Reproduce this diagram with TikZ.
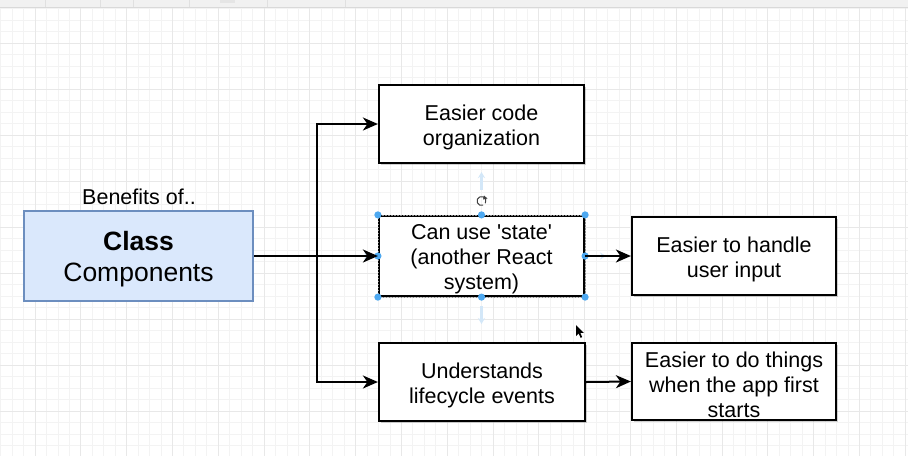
\documentclass[tikz,border=0pt]{standalone}
\usepackage{fontspec}
\setmainfont{Liberation Sans}[Ligatures=TeXOff]
\usetikzlibrary{arrows.meta,shadows}
\definecolor{clsfill}{HTML}{DAE8FC}
\definecolor{clsdraw}{HTML}{6C8EBF}
\definecolor{gridminor}{HTML}{F3F3F3}
\definecolor{gridmajor}{HTML}{E8E8E8}
\definecolor{handle}{HTML}{4DA8F0}
\definecolor{hint}{HTML}{D3E7F8}
\definecolor{toolbar}{HTML}{F1F1F1}
\tikzset{
  box/.style={draw=black, line width=2.2pt, fill=white, inner sep=0pt,
    drop shadow={shadow xshift=2pt, shadow yshift=-2pt, fill=black, opacity=0.18}},
  boxtext/.style={inner sep=0pt, align=center, yshift=-3pt, font=\fontsize{21.5}{25}\selectfont},
  clsbox/.style={draw=clsdraw, fill=clsfill, line width=1.6pt, inner sep=0pt,
    minimum width=229.5pt, minimum height=90.5pt},
  clstext/.style={inner sep=0pt, align=center, yshift=-3.5pt, font=\fontsize{26.5}{31}\selectfont},
  lbl/.style={inner sep=0pt, font=\fontsize{21.5}{25}\selectfont},
  conn/.style={line width=2pt, -{Stealth[length=15pt,width=13pt,inset=4.5pt]}},
  hintarrow/.style={hint, line width=2.2pt, -{Stealth[length=6pt,width=7pt]}},
}
\begin{document}
\begin{tikzpicture}[x=1pt,y=-1pt]
\useasboundingbox (0,0) rectangle (908,456);
\fill[white] (0,0) rectangle (908,456);
% grid
\foreach \i in {-3,...,76} {
  \draw[gridminor, line width=0.8pt] ({35+11.45*\i},7) -- ({35+11.45*\i},456);
}
\foreach \i in {-3,...,40} {
  \draw[gridminor, line width=0.8pt] (0,{43+11.5*\i}) -- (908,{43+11.5*\i});
}
\foreach \i in {-1,...,19} {
  \draw[gridmajor, line width=0.9pt] ({35+45.8*\i},7) -- ({35+45.8*\i},456);
}
\foreach \i in {-1,...,10} {
  \draw[gridmajor, line width=0.9pt] (0,{43+46*\i}) -- (908,{43+46*\i});
}
% toolbar strip
\fill[toolbar] (0,0) rectangle (908,7);
\draw[black!15, line width=0.8pt] (0,7) -- (908,7);
\foreach \x in {45,100,133,189,267,345} {
  \draw[black!12, line width=0.6pt] (\x,0) -- (\x,7);
}
\fill[black!10] (220,0) rectangle (235,2.5);

% nodes
\node[lbl] (ben) at (139,197) {Benefits of..};
\node[clsbox, label={[clstext]center:{\textbf{Class}\\Components}}] (cls) at (138.5,256) {};
\node[box, minimum width=205pt, minimum height=78pt,
  label={[boxtext]center:{Easier code\\organization}}] (b1) at (481.5,124) {};
\node[box, minimum width=205pt, minimum height=80pt,
  label={[boxtext]center:{Can use 'state'\\(another React\\system)}}] (b2) at (481.5,256) {};
\node[box, minimum width=206pt, minimum height=78pt,
  label={[boxtext]center:{Understands\\lifecycle events}}] (b3) at (482,382) {};
\node[box, minimum width=204pt, minimum height=78pt,
  label={[boxtext]center:{Easier to handle\\user input}}] (b4) at (734,256) {};
\node[box, minimum width=204pt, minimum height=77pt,
  label={[boxtext]center:{Easier to do things\\when the app first\\starts}}] (b5) at (734,381.5) {};

% selection decorations on b2
\draw[white!55!black, line width=0.7pt, dash pattern=on 1.5pt off 1.5pt] (b2.north west) rectangle (b2.south east);
\draw[hintarrow] (481.5,190) -- (481.5,172);
\draw[hintarrow] (481.5,306) -- (481.5,324);
\draw[hintarrow] (366,256) -- (370,256);
\draw[hintarrow] (594,256) -- (606,256);
\foreach \p in {(b2.north west),(b2.north),(b2.north east),(b2.west),(b2.east),(b2.south west),(b2.south),(b2.south east)} {
  \fill[handle] \p circle[radius=3.6];
}
\draw[black!75, line width=1pt] (481.5,201) ++(70:4.5) arc[start angle=70, end angle=390, radius=4.5];
\fill[black!75] (484,195.5) -- (487.5,198.5) -- (483,199.5) -- cycle;

% connectors
\coordinate (j) at (316.5,256);
\draw[conn] (cls.east) -- (b2.west);
\draw[conn] (j) |- (b1.west);
\draw[conn] (j) |- (b3.west);
\draw[conn] (b2.east) -- (b4.west);
\draw[conn] (b3.east) -- (b5.west);

% mouse cursor
\fill[black] (576,325) -- (576,336) -- (578.6,333.4) -- (580.6,337.8) -- (582.2,337.1) -- (580.3,332.8) -- (583.8,332.8) -- cycle;
\end{tikzpicture}
\end{document}
